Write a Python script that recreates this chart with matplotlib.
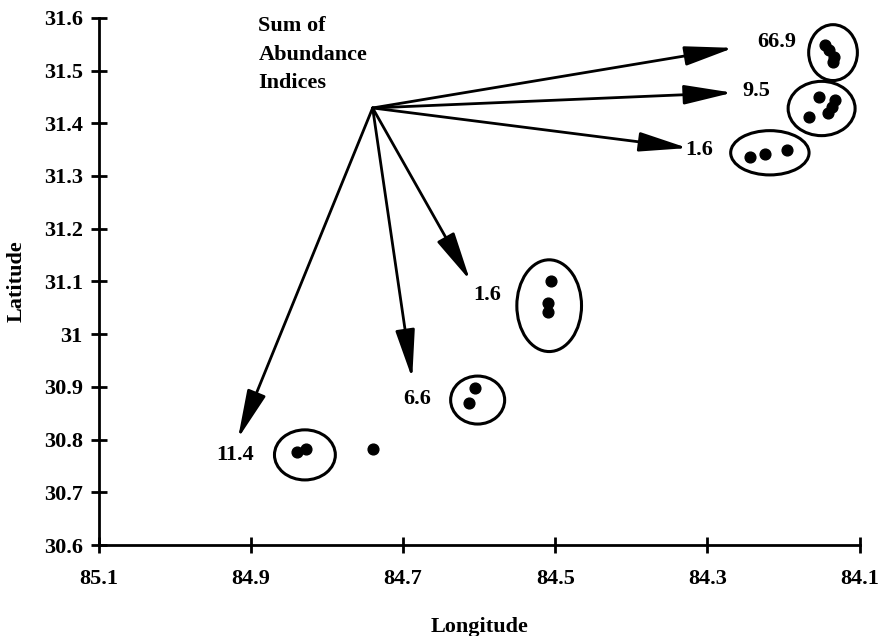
import numpy as np
import matplotlib.pyplot as plt
from matplotlib.patches import Ellipse

plt.rcParams['font.family'] = ['Liberation Serif', 'DejaVu Serif']
plt.rcParams['font.weight'] = 'bold'
plt.rcParams['axes.labelweight'] = 'bold'
plt.rcParams['font.size'] = 16

# sampling sites (longitude W, latitude N)
lon = [84.146, 84.140, 84.134, 84.135,
       84.154, 84.133, 84.137, 84.141, 84.167,
       84.244, 84.225, 84.196,
       84.505, 84.509, 84.509,
       84.605, 84.613,
       84.840, 84.827,
       84.739]
lat = [31.549, 31.539, 31.526, 31.516,
       31.450, 31.444, 31.431, 31.420, 31.412,
       31.336, 31.342, 31.350,
       31.101, 31.060, 31.042,
       30.897, 30.870,
       30.777, 30.782,
       30.782]

# site groups: ellipse centre / size, arrow tip, label position and value
grp_lon = [84.135, 84.150, 84.218, 84.508, 84.602, 84.829]
grp_lat = [31.534, 31.428, 31.344, 31.054, 30.875, 30.771]
grp_w = [0.064, 0.088, 0.103, 0.085, 0.071, 0.080]
grp_h = [0.106, 0.103, 0.084, 0.174, 0.091, 0.095]
tip_lon = [84.266, 84.267, 84.326, 84.612, 84.688, 84.917]
tip_lat = [31.543, 31.458, 31.353, 31.102, 30.916, 30.802]
lab_lon = [84.209, 84.236, 84.311, 84.589, 84.681, 84.921]
lab_lat = [31.554, 31.461, 31.350, 31.074, 30.877, 30.771]
abundance = ['66.9', '9.5', '1.6', '1.6', '6.6', '11.4']
origin = (84.740, 31.429)

fig = plt.figure(figsize=(8.89, 6.36), dpi=100)
ax = fig.add_axes([0.111, 0.143, 0.856, 0.829])

ax.scatter(lon, lat, s=60, color='k', zorder=3)

for i in range(len(grp_lon)):
    ax.add_patch(Ellipse((grp_lon[i], grp_lat[i]), grp_w[i], grp_h[i],
                         fill=False, lw=2.2, ec='k'))
    ax.annotate('', xy=(tip_lon[i], tip_lat[i]), xytext=origin,
                arrowprops=dict(arrowstyle='-|>,head_length=3.0,head_width=0.6',
                                mutation_scale=10, lw=2.0, color='k',
                                shrinkA=0, shrinkB=0))
    ax.text(lab_lon[i], lab_lat[i], abundance[i], ha='center', va='center')

ax.text(84.890, 31.530, 'Sum of\nAbundance\nIndices', ha='left', va='center',
        linespacing=1.55)

ax.set_xlim(85.1, 84.1)
ax.set_ylim(30.6, 31.6)
ax.set_xticks([85.1, 84.9, 84.7, 84.5, 84.3, 84.1])
ax.set_xticklabels(['85.1', '84.9', '84.7', '84.5', '84.3', '84.1'])
ax.set_yticks(np.arange(30.6, 31.65, 0.1))
ax.set_yticklabels(['30.6', '30.7', '30.8', '30.9', '31', '31.1',
                    '31.2', '31.3', '31.4', '31.5', '31.6'])

ax.spines['top'].set_visible(False)
ax.spines['right'].set_visible(False)
ax.spines['left'].set_linewidth(2)
ax.spines['bottom'].set_linewidth(2)
ax.tick_params(direction='inout', length=11, width=2)
ax.tick_params(axis='x', pad=12)
ax.tick_params(axis='y', pad=6)
ax.set_xlabel('Longitude', labelpad=20)
ax.set_ylabel('Latitude', labelpad=12)

fig.savefig('out.png', dpi=100)
